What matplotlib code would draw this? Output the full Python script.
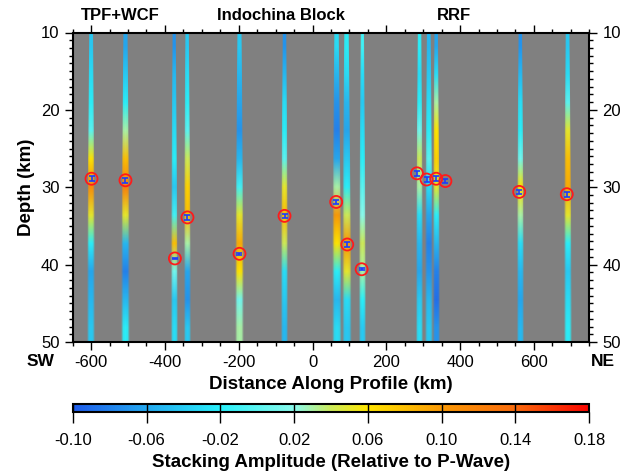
import numpy as np
import matplotlib
matplotlib.use("Agg")
import matplotlib.pyplot as plt
from matplotlib.colors import LinearSegmentedColormap, Normalize
from matplotlib.cm import ScalarMappable
from matplotlib.ticker import MultipleLocator
from matplotlib.patches import Polygon

plt.rcParams['font.family'] = ['Liberation Sans', 'DejaVu Sans']
plt.rcParams['axes.unicode_minus'] = False

# ---- data ----
depth_nodes = [10, 14, 18, 22, 26, 30, 34, 38, 42, 46, 50]

stripe_x = [-600, -507, -375, -340, -198, -76, 65, 92, 135, 290, 315, 335, 563, 691]
stripe_halfwidth = [13, 14, 11, 12, 14, 12, 15, 15, 11, 12, 13, 12, 12, 13]
stripe_amp = [
    [-0.04, -0.03, -0.02, 0.00, 0.06, 0.11, 0.05, -0.02, -0.06, -0.05, -0.04],
    [-0.06, -0.04, -0.02, 0.03, 0.08, 0.12, 0.05, -0.05, -0.08, -0.05, -0.02],
    [-0.07, -0.05, -0.04, -0.03, -0.02, -0.04, -0.01, 0.08, 0.01, -0.04, -0.03],
    [-0.04, -0.03, -0.02, 0.00, 0.04, 0.07, 0.08, 0.03, -0.06, -0.07, -0.04],
    [-0.04, -0.05, -0.06, -0.07, -0.05, -0.01, 0.05, 0.09, 0.06, 0.01, 0.03],
    [-0.07, -0.05, -0.03, -0.02, 0.00, 0.05, 0.08, 0.04, -0.03, -0.04, -0.05],
    [-0.03, -0.05, -0.07, -0.08, -0.06, 0.03, 0.10, 0.06, -0.02, -0.05, -0.03],
    [-0.02, -0.03, -0.05, -0.06, -0.04, -0.02, 0.04, 0.10, 0.05, -0.03, -0.04],
    [-0.01, -0.03, -0.04, -0.03, -0.02, 0.00, 0.02, 0.04, 0.03, -0.02, -0.04],
    [-0.02, -0.03, -0.02, 0.01, 0.04, 0.03, -0.03, -0.05, -0.06, -0.04, -0.03],
    [-0.05, -0.04, -0.03, -0.02, 0.00, -0.03, -0.06, -0.08, -0.07, -0.05, -0.04],
    [-0.06, -0.03, 0.03, 0.06, 0.07, 0.05, -0.02, -0.05, -0.08, -0.09, -0.07],
    [-0.07, -0.05, -0.03, -0.02, 0.01, 0.06, 0.03, -0.03, -0.05, -0.06, -0.05],
    [-0.04, -0.03, 0.00, 0.05, 0.08, 0.09, 0.05, -0.02, -0.04, -0.03, -0.02],
]

moho_x = [-599, -507, -373, -339, -198, -76, 64, 94, 133, 283, 309, 335, 360, 560, 689]
moho_depth = [28.9, 29.1, 39.2, 33.9, 38.6, 33.7, 31.9, 37.4, 40.6, 28.2, 29.0, 28.9, 29.2, 30.6, 30.9]
moho_err = [0.35, 0.35, 0.1, 0.3, 0.1, 0.3, 0.3, 0.3, 0.1, 0.3, 0.3, 0.35, 0.3, 0.3, 0.35]

region_labels = ["TPF+WCF", "Indochina Block", "RRF"]
region_label_x = [-520, -86, 383]

cbar_ticks = [-0.10, -0.06, -0.02, 0.02, 0.06, 0.10, 0.14, 0.18]

# ---- colormap ----
cmap = LinearSegmentedColormap.from_list("rf", [
    (0.000, (0.12, 0.36, 0.92)),
    (0.143, (0.14, 0.66, 0.94)),
    (0.286, (0.16, 0.94, 0.98)),
    (0.43, (0.55, 0.98, 0.92)),
    (0.50, (0.80, 0.92, 0.35)),
    (0.571, (1.00, 0.90, 0.00)),
    (0.714, (0.98, 0.60, 0.02)),
    (0.857, (0.98, 0.42, 0.05)),
    (1.000, (0.98, 0.02, 0.00)),
])
norm = Normalize(vmin=-0.10, vmax=0.18)

W, H = 6.27, 4.75
fig = plt.figure(figsize=(W, H), dpi=100)
ax = fig.add_axes([72.7 / 627, 1 - 342 / 475, (589.3 - 72.7) / 627, (342 - 32.5) / 475])
ax.set_facecolor('#808080')

alpha_profile = [0.0, 0.9, 1.0, 0.9, 0.0]
top_frac = 0.4
for xc, hw, amps in zip(stripe_x, stripe_halfwidth, stripe_amp):
    cols = cmap(norm(np.array(amps)))  # (n, 4)
    img = np.repeat(cols[:, None, :], len(alpha_profile), axis=1)
    img[:, :, 3] = np.array(alpha_profile)[None, :]
    im = ax.imshow(img, extent=[xc - hw, xc + hw, 50, 10], aspect='auto',
                   interpolation='bilinear', zorder=2)
    clip = Polygon([[xc - hw * top_frac, 10], [xc + hw * top_frac, 10],
                    [xc + hw, 50], [xc - hw, 50]], closed=True,
                   transform=ax.transData, facecolor='none', edgecolor='none')
    im.set_clip_path(clip)

ax.errorbar(moho_x, moho_depth, yerr=moho_err, fmt='none', ecolor='#1a3cff',
            elinewidth=1.2, capsize=2.5, capthick=1.2, zorder=4)
ax.scatter(moho_x, moho_depth, s=75, facecolors='none', edgecolors='#ff1a1a',
           linewidths=1.3, zorder=5)

ax.set_xlim(-650, 750)
ax.set_ylim(50, 10)
ax.xaxis.set_major_locator(MultipleLocator(200))
ax.xaxis.set_minor_locator(MultipleLocator(50))
ax.yaxis.set_major_locator(MultipleLocator(10))
ax.yaxis.set_minor_locator(MultipleLocator(1))
ax.tick_params(which='both', direction='out', top=True, right=True, labelright=True,
               labelsize=12, width=1.0)
ax.tick_params(which='major', length=6)
ax.tick_params(which='minor', length=3)
for s in ax.spines.values():
    s.set_linewidth(1.5)

ax.set_xlabel("Distance Along Profile (km)", fontsize=13.5, fontweight='bold', labelpad=4)
ax.set_ylabel("Depth (km)", fontsize=13.5, fontweight='bold', labelpad=4)

for lab, lx in zip(region_labels, region_label_x):
    ax.text(lx, 1.055, lab, transform=ax.get_xaxis_transform(), ha='center', va='center',
            fontsize=12, fontweight='bold')
ax.text(-0.063, -0.038, "SW", transform=ax.transAxes, ha='center', va='top',
        fontsize=12.5, fontweight='bold')
ax.text(1.026, -0.038, "NE", transform=ax.transAxes, ha='center', va='top',
        fontsize=12.5, fontweight='bold')

# ---- colorbar ----
cax = fig.add_axes([72.7 / 627, 1 - 411.7 / 475, (589.3 - 72.7) / 627, 7.7 / 475])
cb = fig.colorbar(ScalarMappable(norm=norm, cmap=cmap), cax=cax, orientation='horizontal')
cb.set_ticks(cbar_ticks)
cb.set_ticklabels([f"{t:.2f}" for t in cbar_ticks])
cb.outline.set_linewidth(1.5)
cax.tick_params(direction='out', length=8, width=1.0, labelsize=12, pad=7)
for t in cbar_ticks:
    cax.axvline(t, color='black', lw=1.0)
cb.set_label("Stacking Amplitude (Relative to P-Wave)", fontsize=13.5, fontweight='bold', labelpad=5)

fig.savefig("out.png", dpi=100)
